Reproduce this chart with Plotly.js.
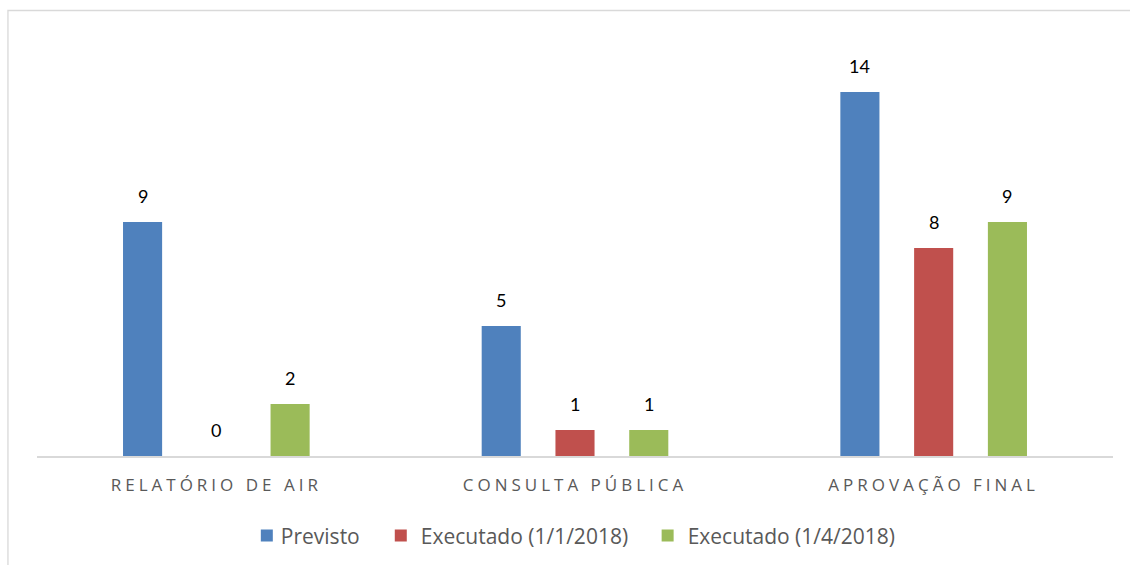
<!DOCTYPE html>
<html>
<head>
<meta charset="utf-8">
<script src="https://cdn.plot.ly/plotly-3.0.1.min.js"></script>
<style>
  body { margin: 0; background: #fff; }
  #graph .xtick text { letter-spacing: 4px; }
  #graph .legendtext { transform: translateX(-6px); }
</style>
</head>
<body>
<div id="graph" style="width:1130px;height:565px;"></div>
<script>
const categories = ['RELATÓRIO DE AIR', 'CONSULTA PÚBLICA', 'APROVAÇÃO FINAL'];
const seriesNames = ['Previsto', 'Executado (1/1/2018)', 'Executado (1/4/2018)'];
const previsto = [9, 5, 14];
const executado1 = [0, 1, 8];
const executado2 = [2, 1, 9];
const colors = ['#4F81BD', '#C0504D', '#9BBB59'];

const allSeries = [previsto, executado1, executado2];
const legendIds = ['legend', 'legend2', 'legend3'];
// left edge of each legend entry, in paper units
const legendX = [0.195, 0.3195, 0.5675];

// one bar trace per series, each with its own legend box
const data = allSeries.map(function (vals, i) {
    return {
        x: categories,
        y: vals,
        type: 'bar',
        name: seriesNames[i],
        legend: legendIds[i],
        marker: { color: colors[i] },
        hoverinfo: 'x+y+name'
    };
});

// value labels sit well above the bars, so annotations with a pixel shift
const slot = 73.7;
const annotations = [];
allSeries.forEach(function (vals, i) {
    vals.forEach(function (v, j) {
        annotations.push({
            x: categories[j],
            y: v,
            text: String(v),
            showarrow: false,
            xshift: (i - 1) * slot,
            yshift: 13,
            yanchor: 'bottom',
            font: { family: 'Lato, sans-serif', size: 18, color: '#000000' }
        });
    });
});

function legendBox(x) {
    return {
        orientation: 'h',
        x: x,
        xanchor: 'left',
        y: -0.192,
        yanchor: 'middle',
        bgcolor: 'rgba(0,0,0,0)',
        font: { family: '"Open Sans", sans-serif', size: 21, color: '#595959' }
    };
}

const layout = {
    width: 1130,
    height: 565,
    margin: { l: 37, r: 17, t: 40, b: 109, autoexpand: false },
    paper_bgcolor: '#ffffff',
    plot_bgcolor: '#ffffff',
    barmode: 'group',
    bargap: 0.383,
    bargroupgap: 0.47,
    showlegend: true,
    legend: legendBox(legendX[0]),
    legend2: legendBox(legendX[1]),
    legend3: legendBox(legendX[2]),
    xaxis: {
        type: 'category',
        showline: true,
        linecolor: '#d9d9d9',
        linewidth: 1.5,
        ticks: '',
        showgrid: false,
        zeroline: false,
        ticklabelstandoff: 13,
        tickfont: { family: '"Open Sans", sans-serif', size: 17, color: '#595959' }
    },
    yaxis: {
        visible: false,
        range: [0, 16],
        showgrid: false,
        zeroline: false
    },
    annotations: annotations,
    shapes: [{
        type: 'rect',
        xref: 'paper',
        yref: 'paper',
        x0: -0.027,
        x1: 1.04,
        y0: -0.3,
        y1: 1.0709,
        line: { color: '#d9d9d9', width: 1.3 },
        layer: 'below'
    }]
};

var config = { responsive: false, displayModeBar: false };
Plotly.newPlot('graph', data, layout, config);
</script>
</body>
</html>
